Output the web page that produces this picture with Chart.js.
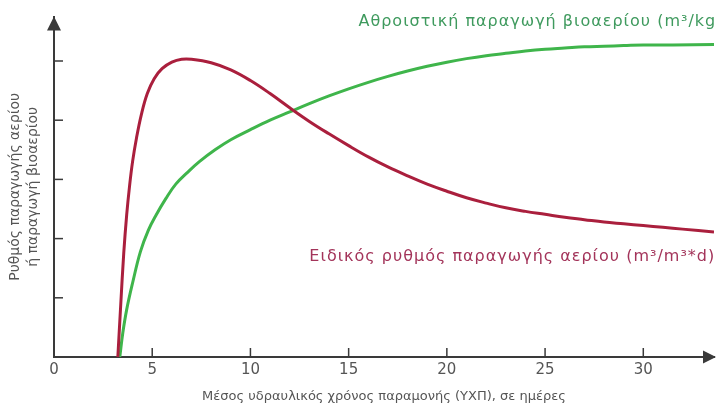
<!DOCTYPE html>
<html><head><meta charset="utf-8">
<script src="https://cdn.jsdelivr.net/npm/chart.js@4.4.1/dist/chart.umd.min.js"></script>
<style>html,body{margin:0;padding:0;background:#fff}#wrap{width:716px;height:408px}</style>
</head><body><div id="wrap"><canvas id="c" width="716" height="408"></canvas></div>
<script>
// ---- data ----
const xTickValues = [0, 5, 10, 15, 20, 25, 30];
const yTickValues = [1, 2, 3, 4, 5];
const specificRateX = [3.25, 3.4, 3.55, 3.7, 3.85, 4.0, 4.2, 4.45, 4.75, 5.1, 5.5, 6.0, 6.5, 7, 8, 9, 10, 11, 12, 13, 14, 15, 16, 17, 18, 19, 20, 21, 22, 23, 24, 25, 26, 27, 28, 29, 30, 31, 32, 33.6];
const specificRateY = [0, 0.9, 1.75, 2.4, 2.9, 3.3, 3.7, 4.1, 4.45, 4.7, 4.87, 4.98, 5.03, 5.03, 4.97, 4.85, 4.67, 4.45, 4.21, 3.98, 3.77, 3.57, 3.38, 3.21, 3.06, 2.92, 2.8, 2.69, 2.6, 2.52, 2.46, 2.41, 2.36, 2.32, 2.28, 2.25, 2.22, 2.19, 2.16, 2.11];
const cumulativeX = [3.35, 3.5, 3.7, 4.0, 4.4, 4.8, 5.2, 5.7, 6.2, 6.8, 7.4, 8.2, 9, 10, 11, 12, 13, 14, 15, 16, 17, 18, 19, 20, 21, 22, 23, 24, 25, 26, 27, 28, 29, 30, 31.5, 33.6];
const cumulativeY = [0, 0.4, 0.8, 1.25, 1.78, 2.14, 2.4, 2.68, 2.92, 3.12, 3.3, 3.5, 3.67, 3.84, 4.0, 4.14, 4.28, 4.41, 4.53, 4.64, 4.74, 4.83, 4.91, 4.98, 5.04, 5.09, 5.13, 5.17, 5.2, 5.22, 5.24, 5.25, 5.26, 5.27, 5.27, 5.28];
const xTitle = 'Μέσος υδραυλικός χρόνος παραμονής (ΥΧΠ), σε ημέρες';
const yTitle = ['Ρυθμός παραγωγής αερίου', 'ή παραγωγή βιοαερίου'];
const cumulativeLabel = 'Αθροιστική παραγωγή βιοαερίου (m³/kg)';
const specificLabel = 'Ειδικός ρυθμός παραγωγής αερίου (m³/m³*d)';
const cumulativeLabelPos = [15.5, 5.66];
const specificLabelPos = [13.0, 1.7];

const toPts = (xs, ys) => xs.map((x, i) => ({x: x, y: ys[i]}));

const axisColor = '#3a3a3a';
const decorPlugin = {
  id: 'decor',
  afterDraw(chart) {
    const {ctx, chartArea: a, scales: {x, y}} = chart;
    ctx.save();
    ctx.strokeStyle = axisColor;
    ctx.fillStyle = axisColor;
    ctx.lineWidth = 1.5;
    // inward tick marks
    yTickValues.forEach(v => {
      const py = y.getPixelForValue(v);
      ctx.beginPath(); ctx.moveTo(a.left, py); ctx.lineTo(a.left + 9, py); ctx.stroke();
    });
    xTickValues.filter(v => v > 0).forEach(v => {
      const px = x.getPixelForValue(v);
      ctx.beginPath(); ctx.moveTo(px, a.bottom); ctx.lineTo(px, a.bottom - 9); ctx.stroke();
    });
    // arrows
    ctx.beginPath();
    ctx.moveTo(a.left, a.top); ctx.lineTo(a.left - 7, a.top + 14); ctx.lineTo(a.left + 7, a.top + 14); ctx.closePath(); ctx.fill();
    ctx.beginPath();
    ctx.moveTo(a.right + 2, a.bottom); ctx.lineTo(a.right - 11, a.bottom - 6.5); ctx.lineTo(a.right - 11, a.bottom + 6.5); ctx.closePath(); ctx.fill();
    // curve labels
    ctx.textBaseline = 'middle';
    ctx.textAlign = 'left';
    ctx.font = '16px "DejaVu Sans"';
    try { ctx.letterSpacing = '1px'; } catch (e) {}
    ctx.fillStyle = '#3f9a5e';
    ctx.fillText(cumulativeLabel, x.getPixelForValue(cumulativeLabelPos[0]), y.getPixelForValue(cumulativeLabelPos[1]));
    ctx.fillStyle = '#a3345a';
    ctx.fillText(specificLabel, x.getPixelForValue(specificLabelPos[0]), y.getPixelForValue(specificLabelPos[1]));
    ctx.restore();
  }
};

new Chart(document.getElementById('c'), {
  type: 'line',
  data: {
    datasets: [
      {data: toPts(specificRateX, specificRateY), borderColor: '#aa1f3d', borderWidth: 3, pointRadius: 0, tension: 0.4, fill: false},
      {data: toPts(cumulativeX, cumulativeY), borderColor: '#3fb54b', borderWidth: 3, pointRadius: 0, tension: 0.4, fill: false}
    ]
  },
  options: {
    responsive: false,
    animation: false,
    devicePixelRatio: 1,
    layout: {padding: {top: 16.6, right: 2, left: 0, bottom: 0}},
    plugins: {legend: {display: false}, tooltip: {enabled: false}},
    scales: {
      x: {
        type: 'linear', min: 0, max: 33.6,
        afterBuildTicks: s => { s.ticks = xTickValues.map(v => ({value: v})); },
        afterFit: s => { s.height = 51; },
        grid: {display: false, drawTicks: false},
        border: {display: true, color: axisColor, width: 2},
        ticks: {color: '#555', font: {family: 'DejaVu Sans', size: 15}, padding: 4, maxRotation: 0, autoSkip: false},
        title: {display: true, text: xTitle, color: '#555', font: {family: 'DejaVu Sans', size: 13}, padding: {bottom: 4, top: 0}}
      },
      y: {
        type: 'linear', min: 0, max: 5.75,
        afterFit: s => { s.width = 54; },
        grid: {display: false, drawTicks: false},
        border: {display: true, color: axisColor, width: 2},
        ticks: {display: false},
        title: {display: true, text: yTitle, color: '#555', font: {family: 'DejaVu Sans', size: 14, lineHeight: 1.3}, padding: {top: 6, bottom: 0}}
      }
    }
  },
  plugins: [decorPlugin]
});
</script></body></html>
